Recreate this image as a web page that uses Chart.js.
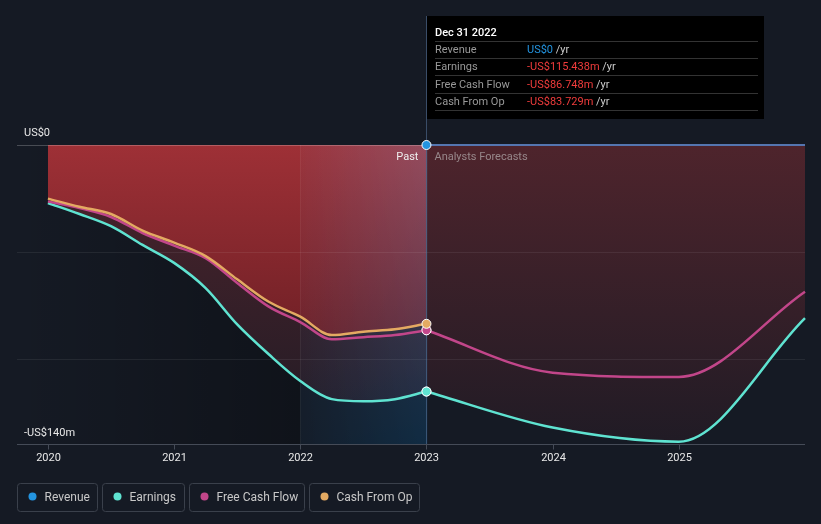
<!DOCTYPE html>
<html><head><meta charset="utf-8">
<script src="https://cdn.jsdelivr.net/npm/chart.js@4"></script>
<style>html,body{margin:0;padding:0;background:#151a24;} canvas{display:block}</style>
</head><body>
<div style="width:821px;height:524px;position:relative"><canvas id="c" width="821" height="524"></canvas></div>
<script>
// ---- data ----
const pastDates = [2020, 2020.25, 2020.5, 2020.75, 2021, 2021.25, 2021.5, 2021.75, 2022, 2022.25, 2022.5, 2022.75, 2023];
const earningsPast = [-27.2, -32.3, -38.0, -46.8, -55.2, -67.0, -84.0, -98.0, -110.5, -119.0, -120.0, -119.0, -115.438];
const fcfPast = [-26.4, -29.5, -33.7, -41.2, -47.1, -53.0, -64.6, -75.7, -82.9, -91.0, -90.0, -89.0, -86.748];
const cfoPast = [-25.1, -28.9, -32.3, -40.1, -45.7, -52.0, -62.9, -73.4, -80.4, -89.0, -87.4, -86.3, -83.729];
const forecastDates = [2023, 2024, 2025, 2026];
const revenueForecast = [0, 0, 0, 0];
const earningsForecast = [-115.438, -132.3, -138.9, -81.1];
const fcfForecast = [-86.748, -106.6, -108.6, -68.7];
const yearTicks = [2020, 2021, 2022, 2023, 2024, 2025];
const yLabelValues = [0, -140];
const yLabelTexts = ['US$0', '-US$140m'];
const gridValues = [-50, -100];
const tooltipTitle = 'Dec 31 2022';
const tooltipLabels = ['Revenue', 'Earnings', 'Free Cash Flow', 'Cash From Op'];
const tooltipValues = ['US$0', '-US$115.438m', '-US$86.748m', '-US$83.729m'];
const legendLabels = ['Revenue', 'Earnings', 'Free Cash Flow', 'Cash From Op'];

const C = {rev:'#2394e0', earn:'#5fe3d1', fcf:'#c2468a', cfo:'#e4aa62'};
const pts = (xs, ys) => xs.map((x,i)=>({x, y: ys[i]}));
const FONT = 'Roboto, "Open Sans", sans-serif';

function vgrad(ctx, area, stops){
  const g = ctx.createLinearGradient(0, area.top, 0, area.bottom);
  stops.forEach(s=>g.addColorStop(s[0], s[1]));
  return g;
}
const cfoFill = (c)=>{const a=c.chart.chartArea; if(!a) return 'rgba(0,0,0,0)'; return vgrad(c.chart.ctx,a,[[0,'rgb(158,48,54)'],[0.65,'rgb(112,32,38)'],[1,'rgb(80,24,30)']]);};
const earnFill = (c)=>{const a=c.chart.chartArea; if(!a) return 'rgba(0,0,0,0)'; return vgrad(c.chart.ctx,a,[[0,'rgb(78,36,44)'],[1,'rgb(32,27,37)']]);};
const ptR = (c)=> (c.raw && c.raw.x === 2023) ? 4.5 : 0;

const base = {borderWidth:2.5, cubicInterpolationMode:'monotone', pointRadius:ptR, pointHoverRadius:ptR, pointBorderColor:'#ffffff', pointBorderWidth:1, clip:false};

const data = {datasets:[
  Object.assign({}, base, {label:'Revenue', data:pts(forecastDates, revenueForecast), borderColor:'#5576b0', pointBackgroundColor:C.rev, fill:false, borderWidth:2}),
  Object.assign({}, base, {label:'Cash From Op', data:pts(pastDates, cfoPast), borderColor:C.cfo, pointBackgroundColor:C.cfo, fill:'origin', backgroundColor:cfoFill}),
  Object.assign({}, base, {label:'Free Cash Flow', data:pts(pastDates, fcfPast), borderColor:C.fcf, pointBackgroundColor:C.fcf, fill:false}),
  Object.assign({}, base, {label:'Earnings', data:pts(pastDates, earningsPast), borderColor:C.earn, pointBackgroundColor:C.earn, fill:'origin', backgroundColor:earnFill}),
  Object.assign({}, base, {label:'Free Cash Flow F', data:pts(forecastDates, fcfForecast), borderColor:C.fcf, pointBackgroundColor:C.fcf, fill:false}),
  Object.assign({}, base, {label:'Earnings F', data:pts(forecastDates, earningsForecast), borderColor:C.earn, pointBackgroundColor:C.earn, fill:'origin', backgroundColor:earnFill}),
]};

const deco = {
  id:'deco',
  beforeDraw(chart){
    const {ctx, chartArea:a, scales:{x}} = chart;
    ctx.save();
    ctx.fillStyle='#151a24'; ctx.fillRect(0,0,chart.width,chart.height);
    const x1 = x.getPixelForValue(2022);
    const g = ctx.createLinearGradient(a.left,0,x1,0);
    g.addColorStop(0,'rgba(0,0,0,0)'); g.addColorStop(1,'rgba(0,0,0,0.28)');
    ctx.fillStyle=g; ctx.fillRect(a.left,a.top,x1-a.left,a.bottom-a.top);
    ctx.restore();
  },
  beforeDatasetsDraw(chart){
    const {ctx, chartArea:a, scales:{x,y}} = chart;
    ctx.save();
    const x1 = x.getPixelForValue(2022), x2 = x.getPixelForValue(2023);
    const g = ctx.createLinearGradient(0,a.top,0,a.bottom);
    g.addColorStop(0,'rgb(127,142,188)'); g.addColorStop(0.5,'rgb(70,110,160)'); g.addColorStop(1,'rgb(6,84,139)');
    ctx.fillStyle=g;
    const w = x2-x1;
    for(let i=0;i<w;i++){ ctx.globalAlpha = 0.06 + 0.26*i/w; ctx.fillRect(x1+i, a.top, 1, a.bottom-a.top); }
    ctx.globalAlpha=1;
    ctx.fillStyle='rgba(255,255,255,0.06)'; ctx.fillRect(Math.round(x1),a.top,1,a.bottom-a.top);
    ctx.strokeStyle='rgba(255,255,255,0.07)'; ctx.lineWidth=1;
    gridValues.forEach(v=>{const py=Math.round(y.getPixelForValue(v))+0.5; ctx.beginPath(); ctx.moveTo(a.left,py); ctx.lineTo(a.right,py); ctx.stroke();});
    const pz = Math.round(y.getPixelForValue(0))+0.5;
    ctx.strokeStyle='rgba(255,255,255,0.22)'; ctx.beginPath(); ctx.moveTo(a.left,pz); ctx.lineTo(a.right,pz); ctx.stroke();
    ctx.strokeStyle='rgba(90,120,160,0.55)'; ctx.beginPath(); ctx.moveTo(Math.round(x2)+0.5,16); ctx.lineTo(Math.round(x2)+0.5,a.bottom); ctx.stroke();
    ctx.font='11px '+FONT; ctx.textBaseline='alphabetic';
    ctx.fillStyle='#eeeeee'; ctx.textAlign='right'; ctx.fillText('Past', x2-8, 160);
    ctx.fillStyle='rgba(200,200,200,0.6)'; ctx.textAlign='left'; ctx.fillText('Analysts Forecasts', x2+8, 160);
    ctx.restore();
  },
  afterDraw(chart){
    const {ctx, chartArea:a, scales:{x,y}} = chart;
    ctx.save();
    ctx.strokeStyle='#454b57'; ctx.lineWidth=1;
    const pb = Math.round(a.bottom)+0.5;
    ctx.beginPath(); ctx.moveTo(a.left,pb); ctx.lineTo(a.right,pb); ctx.stroke();
    ctx.font='11px '+FONT; ctx.fillStyle='#e8e8e8'; ctx.textAlign='center';
    yearTicks.forEach(t=>{const px=Math.round(x.getPixelForValue(t))+0.5; ctx.beginPath(); ctx.moveTo(px,pb); ctx.lineTo(px,pb+5); ctx.stroke(); ctx.fillText(String(t), px, 461);});
    ctx.textAlign='left';
    yLabelValues.forEach((v,i)=>{const py=y.getPixelForValue(v); ctx.fillText(yLabelTexts[i], 24, i===0? py-9 : py-8);});
    ctx.fillStyle='#000000'; ctx.fillRect(427,16,337,103);
    ctx.font='500 11px '+FONT; ctx.fillStyle='#ffffff'; ctx.fillText(tooltipTitle, 435, 35.5);
    ctx.strokeStyle='#333333';
    const seps=[41.5,58.5,75.5,93.5,110.5];
    seps.forEach(s=>{ctx.beginPath(); ctx.moveTo(435,s); ctx.lineTo(758,s); ctx.stroke();});
    ctx.font='11px '+FONT;
    const valColors=[C.rev,'#f03c3c','#f03c3c','#f03c3c'];
    tooltipLabels.forEach((l,i)=>{
      const by=53+i*17.3;
      ctx.fillStyle='#999999'; ctx.fillText(l,435,by);
      ctx.fillStyle=valColors[i]; ctx.fillText(tooltipValues[i],527,by);
      const w=ctx.measureText(tooltipValues[i]).width;
      ctx.fillStyle='#cccccc'; ctx.fillText(' /yr',527+w,by);
    });
    const boxes=[[17,97],[102,184],[189,304],[309,419]];
    const lc=[C.rev,C.earn,C.fcf,C.cfo];
    ctx.font='12px '+FONT;
    boxes.forEach((b,i)=>{
      ctx.strokeStyle='#3a404b'; ctx.lineWidth=1;
      ctx.beginPath(); ctx.roundRect(b[0]+0.5,483.5,b[1]-b[0],28,3); ctx.stroke();
      ctx.fillStyle=lc[i]; ctx.beginPath(); ctx.arc(b[0]+15.5,496.5,4,0,Math.PI*2); ctx.fill();
      ctx.fillStyle='#c8c8c8'; ctx.fillText(legendLabels[i], b[0]+27.5, 500.5);
    });
    ctx.restore();
  }
};

new Chart(document.getElementById('c'), {
  type:'line',
  data,
  options:{
    responsive:false, animation:false, devicePixelRatio:1,
    layout:{padding:{left:17,right:16,top:145,bottom:80}},
    scales:{
      x:{type:'linear', min:2019.755, max:2026, display:false},
      y:{type:'linear', min:-140, max:0, display:false}
    },
    plugins:{legend:{display:false}, tooltip:{enabled:false}, filler:{drawTime:'beforeDatasetsDraw'}},
    events:[]
  },
  plugins:[deco]
});
</script>
</body></html>
